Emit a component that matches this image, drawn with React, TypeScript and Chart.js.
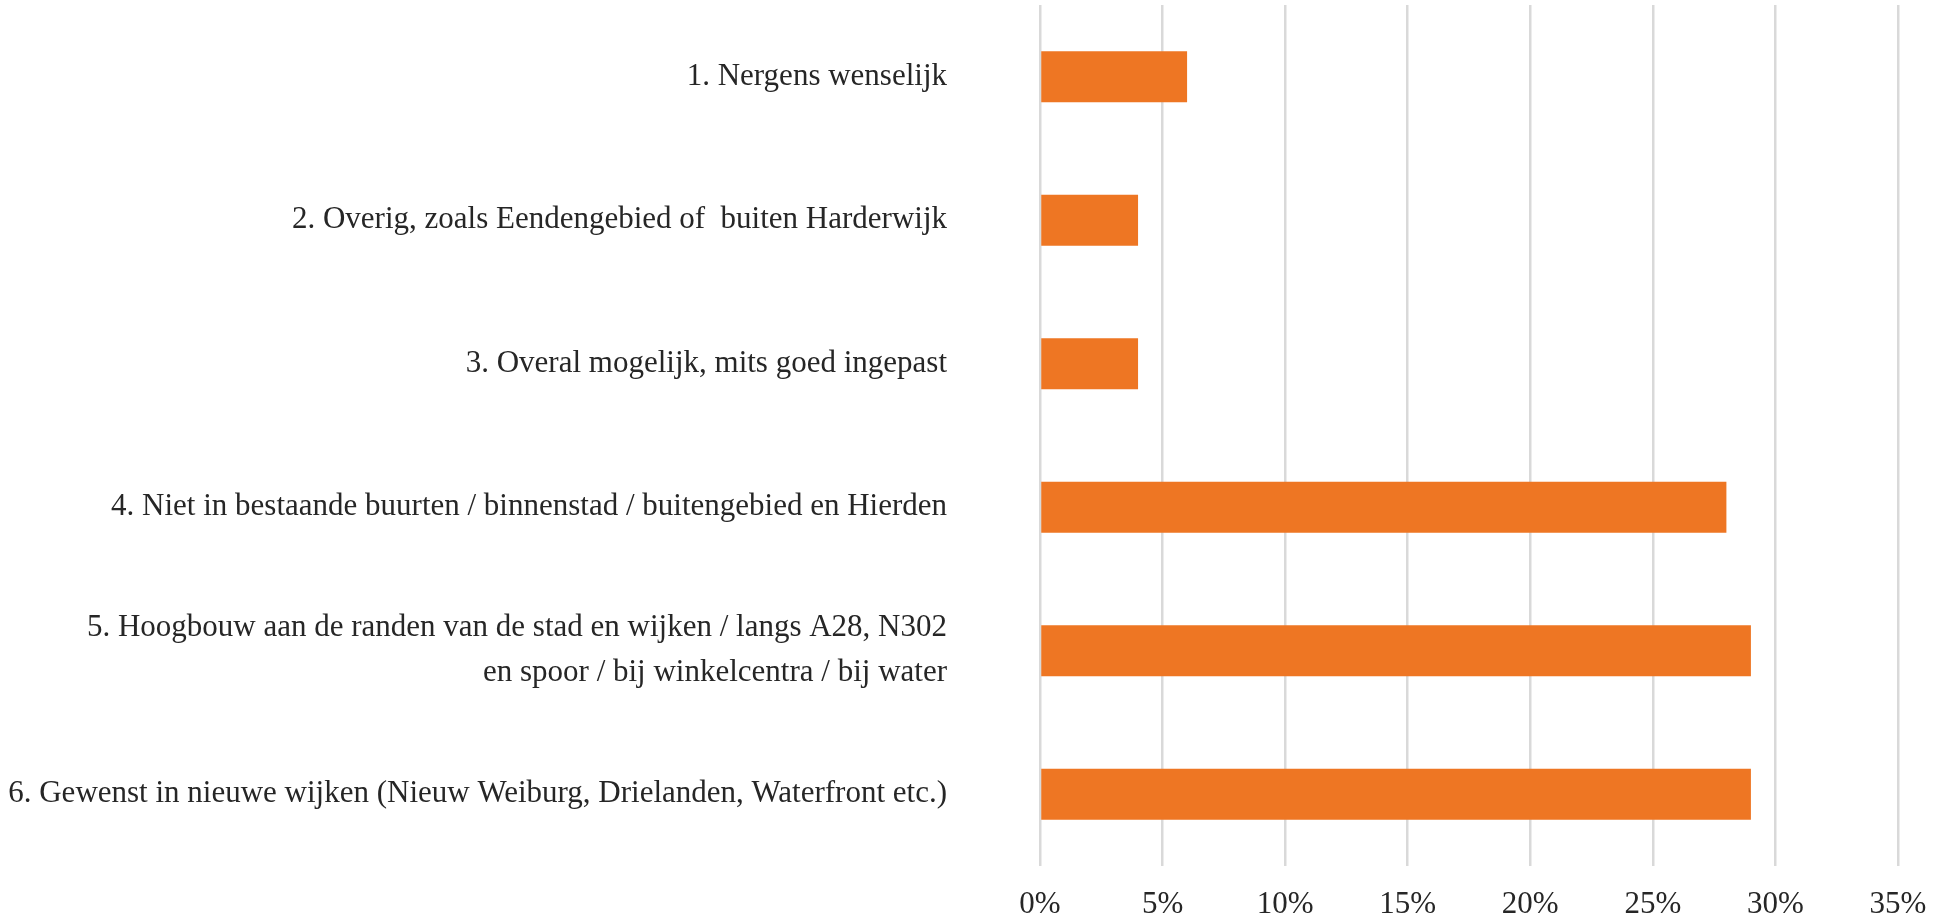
import React, { useEffect, useRef } from "react";
import { Chart, registerables } from "chart.js";

Chart.register(...registerables);

const categories: (string | string[])[] = [
  "1. Nergens wenselijk",
  "2. Overig, zoals Eendengebied of  buiten Harderwijk",
  "3. Overal mogelijk, mits goed ingepast",
  "4. Niet in bestaande buurten / binnenstad / buitengebied en Hierden",
  [
    "5. Hoogbouw aan de randen van de stad en wijken / langs A28, N302",
    "en spoor / bij winkelcentra / bij water",
  ],
  "6. Gewenst in nieuwe wijken (Nieuw Weiburg, Drielanden, Waterfront etc.)",
];

const percentages: number[] = [6, 4, 4, 28, 29, 29];

const axisMax = 35;
const axisStep = 5;

const FONT = "'Liberation Serif', 'Times New Roman', serif";
const TEXT_COLOR = "#262626";
const BAR_COLOR = "#EE7623";
const GRID_COLOR = "#D9D9D9";

export default function App() {
  const canvasRef = useRef<HTMLCanvasElement | null>(null);

  useEffect(() => {
    const canvas = canvasRef.current;
    if (!canvas) return;
    const chart = new Chart(canvas, {
      type: "bar",
      data: {
        labels: categories,
        datasets: [
          {
            data: percentages,
            backgroundColor: BAR_COLOR,
            borderWidth: 0,
            categoryPercentage: 1,
            barPercentage: 0.355,
          },
        ],
      },
      options: {
        indexAxis: "y",
        animation: false,
        responsive: false,
        maintainAspectRatio: false,
        layout: { padding: { top: 5, right: 50, left: 0, bottom: 0 } },
        plugins: {
          legend: { display: false },
          tooltip: { enabled: false },
        },
        scales: {
          x: {
            min: 0,
            max: axisMax,
            border: { display: false },
            grid: {
              color: GRID_COLOR,
              lineWidth: 2.5,
              drawTicks: false,
            },
            ticks: {
              stepSize: axisStep,
              padding: 20,
              color: TEXT_COLOR,
              font: { family: FONT, size: 31, lineHeight: 1.2 },
              callback: (v: any) => `${v}%`,
            },
            afterFit: (scale: any) => {
              scale.height = 53;
            },
          },
          y: {
            border: { display: false },
            grid: { display: false, drawTicks: false },
            ticks: {
              padding: 93,
              color: TEXT_COLOR,
              font: { family: FONT, size: 31, lineHeight: 1.45 },
              autoSkip: false,
            },
            afterFit: (scale: any) => {
              scale.width = 1040;
              scale.paddingTop = 0;
              scale.paddingBottom = 0;
            },
          },
        },
      },
    });
    return () => chart.destroy();
  }, []);

  return (
    <div style={{ position: "fixed", left: 0, top: 0, width: 1948, height: 919, background: "#fff" }}>
      <canvas ref={canvasRef} width={1948} height={919} style={{ display: "block" }} />
    </div>
  );
}
